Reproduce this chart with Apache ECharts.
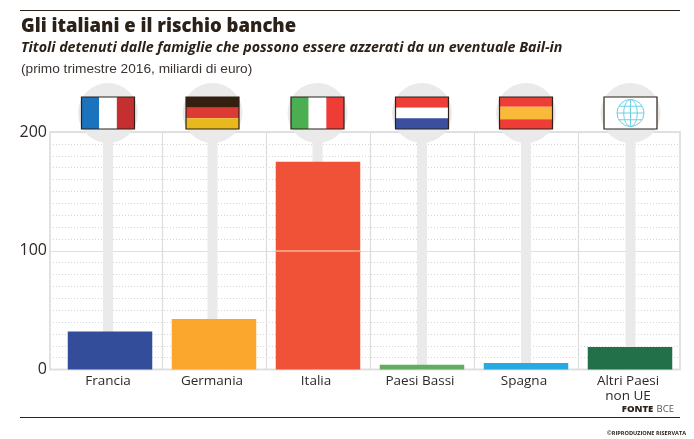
<!DOCTYPE html>
<html><head><meta charset="utf-8">
<style>html,body{margin:0;padding:0;background:#fff}#c{width:694px;height:439px}</style>
<script src="https://cdn.jsdelivr.net/npm/echarts@6/dist/echarts.min.js"></script></head>
<body><div id="c"></div>
<script>
const categories = ['Francia','Germania','Italia','Paesi Bassi','Spagna','Altri Paesi\nnon UE'];
const values = [32, 42.5, 175, 4, 5.5, 19];
const barColors = ['#334d9b','#fba62c','#ef5237','#62ad5c','#27a9e1','#21704a'];
const yTicks = [0, 100, 200];

const INK = '#2b2118';
const flags = [
  {dir:'v', stripes:['#1b72bd','#ffffff','#c4302f']},
  {dir:'h', stripes:['#33200f','#dd3a35','#e8b81c']},
  {dir:'v', stripes:['#4bae50','#ffffff','#ee3c36']},
  {dir:'h', stripes:['#ee3c36','#ffffff','#3a4fa0']},
  {dir:'h', stripes:['#ee3c36','#fbb93b','#ee3c36'], w:[1,1.3,1]},
  {globe:true}
];
const nudge = [-2,-1.5,-0.5,0,0,0.5];

function flagItem(params, api){
  const i = api.value(0);
  const p = api.coord([i, 0]);
  const cx = p[0] + nudge[i];
  const x = cx - 26.5, y = 97, w = 53, h = 32;
  const f = flags[i], ch = [];
  ch.push({type:'rect', shape:{x:cx-5, y:140, width:10, height:p[1]-140}, style:{fill:'#ebeaeb'}, z2:1});
  ch.push({type:'circle', shape:{cx:cx, cy:113, r:30}, style:{fill:'#ebeaeb'}, z2:1});
  ch.push({type:'rect', shape:{x:x,y:y,width:w,height:h}, style:{fill:'#fff'}, z2:2});
  if (f.stripes){
    const ws = f.w || [1,1,1];
    const sum = ws[0]+ws[1]+ws[2];
    let o = 0;
    f.stripes.forEach((c,k)=>{
      const frac = ws[k]/sum;
      ch.push({type:'rect', shape: f.dir==='v'
        ? {x:x+o*w, y:y, width:frac*w, height:h}
        : {x:x, y:y+o*h, width:w, height:frac*h}, style:{fill:c}, z2:3});
      o += frac;
    });
  }
  if (f.globe){
    const g = '#6fcfe4', r = 13.5, cyG = y+h/2;
    const ln = {stroke:g, lineWidth:1, fill:null};
    ch.push({type:'circle', shape:{cx:cx,cy:cyG,r:r}, style:ln, z2:3});
    ch.push({type:'ellipse', shape:{cx:cx,cy:cyG,rx:r*0.5,ry:r}, style:ln, z2:3});
    ch.push({type:'line', shape:{x1:cx,y1:cyG-r,x2:cx,y2:cyG+r}, style:ln, z2:3});
    ch.push({type:'line', shape:{x1:cx-r,y1:cyG,x2:cx+r,y2:cyG}, style:ln, z2:3});
    ch.push({type:'line', shape:{x1:cx-r*0.86,y1:cyG-r*0.5,x2:cx+r*0.86,y2:cyG-r*0.5}, style:ln, z2:3});
    ch.push({type:'line', shape:{x1:cx-r*0.86,y1:cyG+r*0.5,x2:cx+r*0.86,y2:cyG+r*0.5}, style:ln, z2:3});
  }
  ch.push({type:'rect', shape:{x:x,y:y,width:w,height:h}, style:{fill:null,stroke:INK,lineWidth:1.2}, z2:4});
  return {type:'group', children:ch};
}

const chart = echarts.init(document.getElementById('c'), null, {renderer:'canvas'});
const title = (text,top,font,size,weight,style,color)=>({text,left:21,top,padding:0,
  textStyle:{fontFamily:font,fontSize:size,fontWeight:weight,fontStyle:style,color}});
chart.setOption({
  animation:false,
  backgroundColor:'#fff',
  title:[
    title('Gli italiani e il rischio banche',17,'Open Sans',18.5,800,'normal',INK),
    title('Titoli detenuti dalle famiglie che possono essere azzerati da un eventuale Bail-in',41,'Open Sans',14.25,700,'italic',INK),
    title('(primo trimestre 2016, miliardi di euro)',62,'Liberation Sans',13.7,'normal','normal','#3a3330')
  ],
  grid:[
    {left:50,right:14,top:132,height:237.5,show:true,borderColor:'#e2e2e2',borderWidth:2,backgroundColor:'transparent'},
    {left:58,right:12,top:132,height:237.5,show:false}
  ],
  xAxis:[
    {gridIndex:0,type:'value',min:0,max:630,
     axisLine:{show:false},axisLabel:{show:false},
     axisTick:{show:false,customValues:[112,216,320,424,528]},
     splitLine:{show:true,lineStyle:{color:'#dcdcdc',width:1.2}}},
    {gridIndex:1,type:'category',data:categories,
     axisLine:{show:false},axisTick:{show:false},splitLine:{show:false},
     axisLabel:{interval:0,margin:4,padding:[0,4,0,0],fontFamily:'Open Sans',fontSize:13.5,lineHeight:15,color:'#2e2926',verticalAlign:'top'}}
  ],
  yAxis:[
    {gridIndex:0,type:'value',min:0,max:200,interval:100,
     axisLine:{show:false},axisTick:{show:false},
     axisLabel:{margin:3,padding:[0,0,5,0],fontFamily:'Open Sans',fontSize:16,color:'#2e2926',customValues:yTicks},
     splitLine:{show:true,lineStyle:{color:'#dedede',width:1}},
     minorTick:{show:false,splitNumber:10},
     minorSplitLine:{show:true,lineStyle:{color:'#d6d6d6',width:1,type:[1,2]}}},
    {gridIndex:1,type:'value',min:0,max:200,interval:100,show:false,splitLine:{show:false}}
  ],
  series:[
    {type:'custom',xAxisIndex:1,yAxisIndex:1,clip:false,z:1,
     data:categories.map((c,i)=>[i]),encode:{x:0},renderItem:flagItem,silent:true},
    {type:'bar',xAxisIndex:1,yAxisIndex:1,z:3,barWidth:84.5,
     data:values.map((v,i)=>({value:v,itemStyle:{color:barColors[i]}}))}
  ],
  graphic:[
    {type:'line',shape:{x1:20,y1:10.5,x2:680,y2:10.5},style:{stroke:INK,lineWidth:1}},
    {type:'line',shape:{x1:20,y1:417.5,x2:680,y2:417.5},style:{stroke:INK,lineWidth:1}},
    {type:'line',z:10,shape:{x1:276,y1:251,x2:360,y2:251},style:{stroke:'#fbe6c8',lineWidth:1}},
    {type:'text',x:674,y:403,style:{text:'{b|FONTE} {n|BCE}',align:'right',rich:{
      b:{fontFamily:'Open Sans',fontWeight:800,fontSize:9.5,fill:INK,color:INK},
      n:{fontFamily:'Open Sans',fontSize:9.5,fill:'#555',color:'#555'}}}},
    {type:'text',x:686,y:430,style:{text:'©RIPRODUZIONE RISERVATA',align:'right',fontFamily:'Open Sans',fontWeight:700,fontSize:5.6,fill:INK}}
  ]
});
</script></body></html>
